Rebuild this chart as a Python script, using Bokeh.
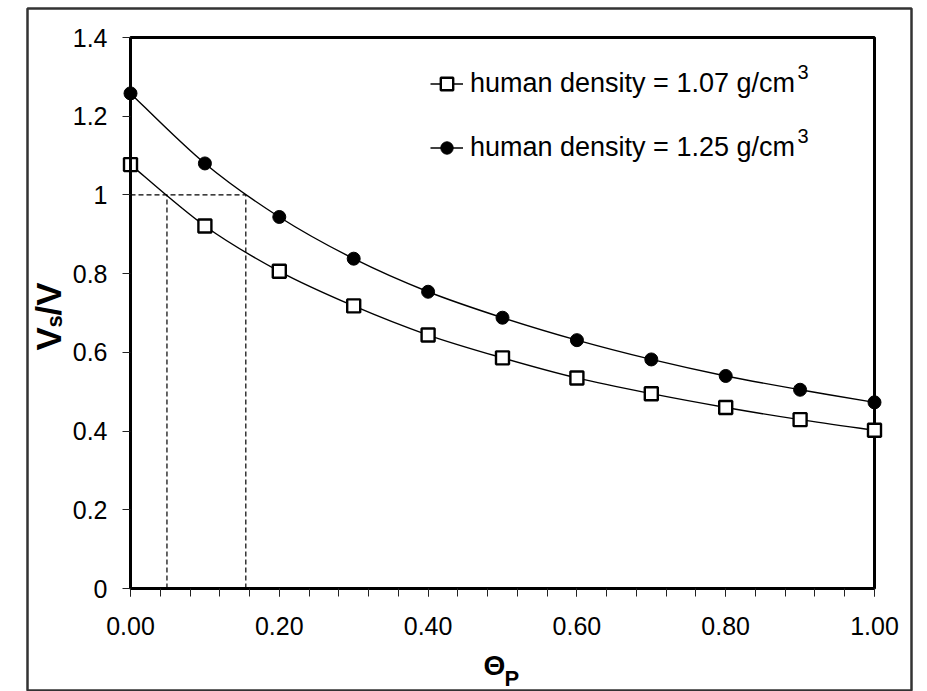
import numpy as np
from bokeh.plotting import figure
from bokeh.models import (Range1d, Label, Legend, LegendItem, FixedTicker,
                          NumeralTickFormatter)
from bokeh.embed import file_html
from bokeh.resources import INLINE

# ---- data -------------------------------------------------------------
theta_p = [0.0, 0.1, 0.2, 0.3, 0.4, 0.5, 0.6, 0.7, 0.8, 0.9, 1.0]
vs_v_107 = [1.077, 0.921, 0.806, 0.718, 0.644, 0.586, 0.535, 0.495, 0.460, 0.429, 0.402]
vs_v_125 = [1.258, 1.080, 0.944, 0.838, 0.754, 0.688, 0.631, 0.582, 0.540, 0.505, 0.473]

# theta_P at which each curve reaches Vs/V = 1
theta_at_unity = [0.049, 0.155]
unity = 1.0

x_ticks = [0.0, 0.2, 0.4, 0.6, 0.8, 1.0]
y_ticks = [0.0, 0.2, 0.4, 0.6, 0.8, 1.0, 1.2, 1.4]
x_minor_step = 0.04

label_107 = "human density = 1.07 g/cm"
label_125 = "human density = 1.25 g/cm"

# ---- geometry ---------------------------------------------------------
W, H = 927, 691
BORDER_L, BORDER_R, BORDER_T, BORDER_B = 27, 16, 8, 1
FW, FH = W - BORDER_L - BORDER_R, H - BORDER_T - BORDER_B   # drawing frame (framed panel)

X_LO, X_HI = 0.0, 1.0
Y_LO, Y_HI = 0.0, 1.4
BOX_L, BOX_R = 103, 847          # plotting box inside the frame, px from frame left
BOX_B, BOX_T = 102, 653          # px from frame bottom

sx = (BOX_R - BOX_L) / (X_HI - X_LO)
sy = (BOX_T - BOX_B) / (Y_HI - Y_LO)

FONT = "Liberation Sans"

p = figure(width=W, height=H,
           x_range=Range1d(X_LO - BOX_L / sx, X_HI + (FW - BOX_R) / sx),
           y_range=Range1d(Y_LO - BOX_B / sy, Y_HI + (FH - BOX_T) / sy),
           min_border_left=BORDER_L, min_border_right=BORDER_R,
           min_border_top=BORDER_T, min_border_bottom=BORDER_B,
           output_backend="svg", toolbar_location=None,
           background_fill_color="white", border_fill_color="white")
p.outline_line_color = "#333333"
p.outline_line_width = 2.5
p.xgrid.visible = False
p.ygrid.visible = False

# plot box
p.quad(left=[X_LO], right=[X_HI], bottom=[Y_LO], top=[Y_HI],
       fill_color=None, line_color="black", line_width=3)

# axes pinned to the box edges
for ax in (p.xaxis[0], p.yaxis[0]):
    ax.axis_line_width = 3
    ax.axis_line_color = "black"
    ax.major_tick_in = 0
    ax.major_tick_out = 8
    ax.major_tick_line_color = "#222222"
    ax.major_tick_line_width = 1
    ax.major_label_text_font = FONT
    ax.major_label_text_font_size = "25px"
    ax.major_label_text_color = "black"

p.xaxis.fixed_location = Y_LO
p.yaxis.fixed_location = X_LO
p.xaxis.bounds = (X_LO, X_HI)
p.yaxis.bounds = (Y_LO, Y_HI)

n_minor = int(round((X_HI - X_LO) / x_minor_step))
p.xaxis.ticker = FixedTicker(ticks=x_ticks,
                             minor_ticks=[X_LO + i * x_minor_step for i in range(n_minor + 1)])
p.xaxis.minor_tick_in = 0
p.xaxis.minor_tick_out = 8
p.xaxis.minor_tick_line_color = "#222222"
p.xaxis.formatter = NumeralTickFormatter(format="0.00")
p.xaxis.major_label_standoff = 20

p.yaxis.ticker = FixedTicker(ticks=y_ticks, minor_ticks=[])
p.yaxis.minor_tick_line_color = None
p.yaxis.formatter = NumeralTickFormatter(format="0.[0]")
p.yaxis.major_label_standoff = 15

# dashed guides at Vs/V = 1
p.segment(x0=[X_LO], y0=[unity], x1=[max(theta_at_unity)], y1=[unity],
          line_color="black", line_width=1.2, line_dash="5 3")
p.segment(x0=theta_at_unity, y0=[Y_LO] * len(theta_at_unity),
          x1=theta_at_unity, y1=[unity] * len(theta_at_unity),
          line_color="black", line_width=1.2, line_dash="5 3")


def smooth_segments(xs, ys):
    """Cubic Bezier pieces passing through every point (smoothed line)."""
    xs = np.asarray(xs, float)
    ys = np.asarray(ys, float)
    n = len(xs)
    xp = np.concatenate([[xs[0]], xs, [xs[-1]]])
    yp = np.concatenate([[ys[0]], ys, [ys[-1]]])
    return dict(
        x0=xs[:-1], y0=ys[:-1], x1=xs[1:], y1=ys[1:],
        cx0=xp[1:n] + (xp[2:n + 1] - xp[0:n - 1]) / 6,
        cy0=yp[1:n] + (yp[2:n + 1] - yp[0:n - 1]) / 6,
        cx1=xp[2:n + 1] - (xp[3:n + 2] - xp[1:n]) / 6,
        cy1=yp[2:n + 1] - (yp[3:n + 2] - yp[1:n]) / 6,
    )


c107 = p.bezier(line_color="black", line_width=1.4, **smooth_segments(theta_p, vs_v_107))
c125 = p.bezier(line_color="black", line_width=1.4, **smooth_segments(theta_p, vs_v_125))

m107 = p.scatter(theta_p, vs_v_107, marker="square", size=13,
                 fill_color="white", line_color="black", line_width=2.4)
m125 = p.scatter(theta_p, vs_v_125, marker="circle", size=13,
                 fill_color="black", line_color="black", line_width=1)

legend = Legend(items=[LegendItem(label=label_107, renderers=[c107, m107]),
                       LegendItem(label=label_125, renderers=[c125, m125])],
                location=(403, 527), orientation="vertical",
                glyph_width=33, glyph_height=31, label_height=31,
                label_standoff=7, spacing=33, padding=0, margin=0,
                border_line_color=None, background_fill_alpha=0,
                label_text_font=FONT, label_text_font_size="27px",
                label_text_color="black")
p.add_layout(legend)

# superscript "3" after the legend units
for ysup in (619, 555):
    p.add_layout(Label(x=770, y=ysup, x_units="screen", y_units="screen",
                       text="3", text_font=FONT, text_font_size="20px",
                       text_color="black",
                       text_baseline="alphabetic", text_align="left"))

# axis titles: Vs/V (rotated) and Θp
ylab = [("V", 21, 340, "35px"), ("s", 27, 363, "22px"), ("/V", 21, 375, "35px")]
for txt, xx, yy, fs in ylab:
    p.add_layout(Label(x=xx, y=yy, x_units="screen", y_units="screen",
                       text=txt, angle=np.pi / 2, text_font=FONT,
                       text_font_size=fs, text_font_style="bold",
                       text_color="black",
                       text_align="left", text_baseline="alphabetic"))

p.add_layout(Label(x=456, y=25, x_units="screen", y_units="screen",
                   text="\u0398", text_font=FONT, text_font_size="28px",
                   text_font_style="bold", text_color="black",
                   text_baseline="alphabetic"))
p.add_layout(Label(x=477, y=12, x_units="screen", y_units="screen",
                   text="P", text_font=FONT, text_font_size="22px",
                   text_font_style="bold", text_color="black",
                   text_baseline="alphabetic"))

open("out.html", "w").write(file_html(p, INLINE))
